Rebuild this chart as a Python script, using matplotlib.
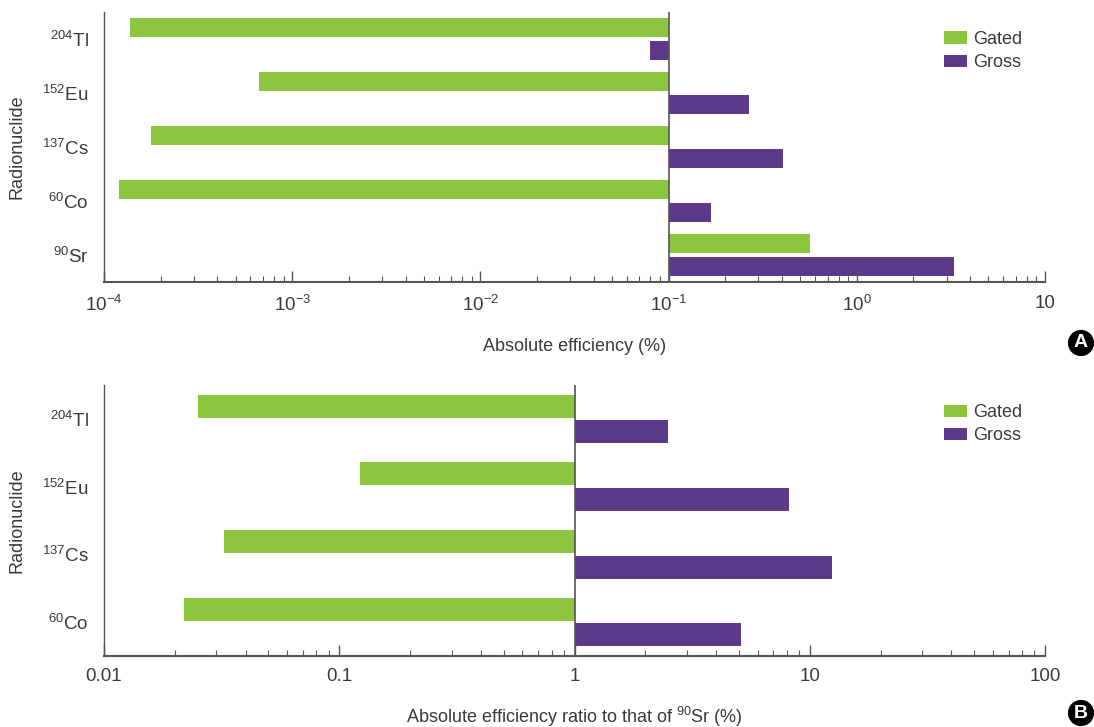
import matplotlib.pyplot as plt
from matplotlib.ticker import LogLocator, NullFormatter

plt.rcParams['font.family'] = ['Liberation Sans', 'DejaVu Sans']
plt.rcParams['mathtext.default'] = 'regular'

GREEN = '#8cc63f'
PURPLE = '#5c3989'
TEXT = '#3a3a3a'
AXIS = '#555555'

# Panel A: absolute efficiency (%)
nuclides_a = ['$^{204}$Tl', '$^{152}$Eu', '$^{137}$Cs', '$^{60}$Co', '$^{90}$Sr']
gated_a = [1.37e-4, 6.67e-4, 1.78e-4, 1.2e-4, 0.561]
gross_a = [0.080, 0.266, 0.404, 0.169, 3.27]
base_a = 0.1
ticks_a = [1e-4, 1e-3, 1e-2, 1e-1, 1, 10]
ticklabels_a = ['10$^{-4}$', '10$^{-3}$', '10$^{-2}$', '10$^{-1}$', '10$^{0}$', '10']

# Panel B: efficiency ratio to 90Sr (%)
nuclides_b = ['$^{204}$Tl', '$^{152}$Eu', '$^{137}$Cs', '$^{60}$Co']
gated_b = [0.0251, 0.1225, 0.0324, 0.0219]
gross_b = [2.49, 8.13, 12.4, 5.12]
base_b = 1.0
ticks_b = [0.01, 0.1, 1, 10, 100]
ticklabels_b = ['0.01', '0.1', '1', '10', '100']

fig = plt.figure(figsize=(10.94, 7.27), dpi=100)
ax_a = fig.add_axes([0.0951, 0.6121, 0.8601, 0.3714])
ax_b = fig.add_axes([0.0951, 0.0977, 0.8601, 0.3727])


def panel(ax, names, gated, gross, base, ticks, ticklabels, xlabel, off, h, labelpad):
    ys = list(range(len(names)))
    ax.barh([y - off for y in ys], [g - base for g in gated], left=base,
            height=h, color=GREEN, label='Gated')
    ax.barh([y + off for y in ys], [g - base for g in gross], left=base,
            height=h, color=PURPLE, label='Gross')
    ax.axvline(base, color=AXIS, lw=1.2)

    ax.set_xscale('log')
    ax.set_xlim(ticks[0], ticks[-1])
    ax.set_ylim(len(names) - 0.5, -0.5)
    ax.set_xticks(ticks)
    ax.set_xticklabels(ticklabels)
    ax.xaxis.set_minor_locator(LogLocator(base=10, subs=range(2, 10)))
    ax.xaxis.set_minor_formatter(NullFormatter())
    ax.tick_params(axis='x', which='major', direction='in', length=8,
                   width=1, color=AXIS, labelsize=13.5, labelcolor=TEXT, pad=9)
    ax.tick_params(axis='x', which='minor', direction='in', length=4.5,
                   width=0.8, color=AXIS)
    ax.set_yticks(ys)
    ax.set_yticklabels(names)
    ax.tick_params(axis='y', length=0, labelsize=13.5, labelcolor=TEXT, pad=11)

    for side in ('top', 'right'):
        ax.spines[side].set_visible(False)
    ax.spines['bottom'].set_color(AXIS)
    ax.spines['bottom'].set_linewidth(1.5)
    ax.spines['left'].set_color(AXIS)
    ax.spines['left'].set_linewidth(1.0)

    ax.set_xlabel(xlabel, fontsize=13, color=TEXT, labelpad=labelpad)
    ax.set_ylabel('Radionuclide', fontsize=13, color=TEXT, labelpad=12)
    ax.legend(loc='upper left', bbox_to_anchor=(0.893, 0.93), frameon=False,
              fontsize=13, handlelength=1.28, handleheight=0.67,
              handletextpad=0.3, labelspacing=0.35, borderpad=0,
              borderaxespad=0, labelcolor=TEXT)


panel(ax_a, nuclides_a, gated_a, gross_a, base_a, ticks_a, ticklabels_a,
      'Absolute efficiency (%)', 0.213, 0.352, 17)
panel(ax_b, nuclides_b, gated_b, gross_b, base_b, ticks_b, ticklabels_b,
      'Absolute efficiency ratio to that of $^{90}$Sr (%)', 0.19, 0.34, 14)

# panel badges
for label, y in (('A', 1 - 343 / 727), ('B', 1 - 713 / 727)):
    fig.text(1081 / 1094, y, label, ha='center', va='center', color='white',
             fontsize=14, fontweight='bold',
             bbox=dict(boxstyle='circle,pad=0.2', fc='black', ec='black'))

fig.savefig('out.png', dpi=100)
